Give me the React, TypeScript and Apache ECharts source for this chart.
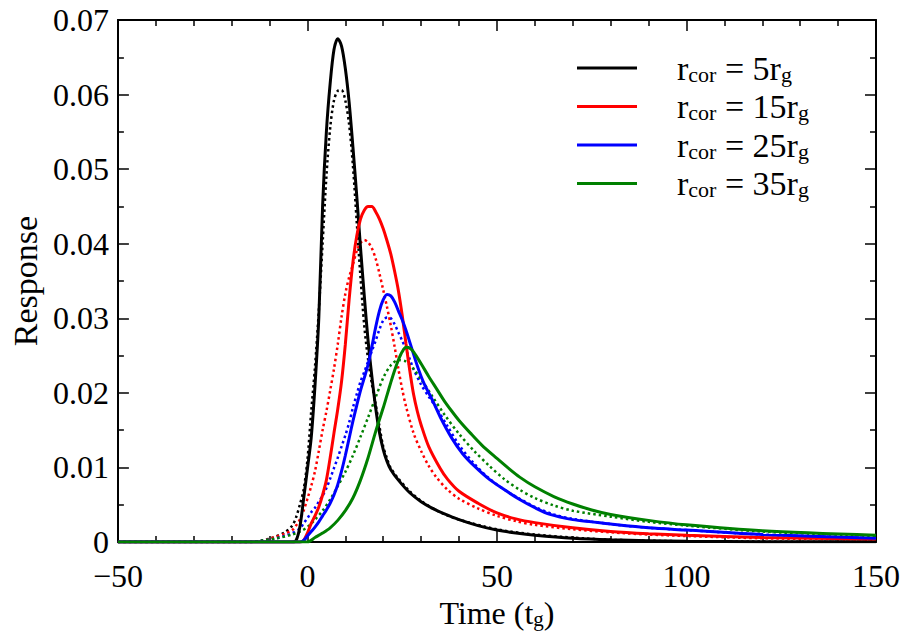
import React, { useEffect, useRef } from "react";
import * as echarts from "echarts";

// ---- Data (time in t_g, response) ----
const black5Solid: number[][] = [[-50,0],[-10,0],[-4,0],[-3,0.0002],[-2,0.002],[-1,0.0058],[0,0.0098],[1,0.014],[2,0.021],[3,0.03],[4,0.045],[5,0.055],[6,0.0615],[7,0.066],[8,0.0675],[9,0.0665],[10,0.0635],[11,0.059],[12,0.053],[13,0.0465],[14,0.0395],[15,0.033],[16,0.027],[17,0.0222],[18,0.018],[19,0.0147],[20,0.0124],[21,0.0108],[22,0.0097],[24,0.0083],[27,0.0066],[30,0.0054],[33,0.0045],[36,0.0038],[40,0.003],[45,0.0022],[50,0.0016],[55,0.0012],[60,0.0009],[70,0.0005],[80,0.0003],[100,0.0001],[120,0.00005],[150,0.00002]];
const black5Dotted: number[][] = [[-50,0],[-15,0],[-12,0.0002],[-9,0.0006],[-6,0.0013],[-4,0.0022],[-3,0.0033],[-2,0.005],[-1,0.007],[0,0.011],[1,0.0175],[2,0.0235],[3,0.031],[4,0.04],[5,0.049],[6,0.0555],[7,0.0592],[8,0.0605],[9,0.0606],[10,0.0592],[11,0.056],[12,0.0505],[13,0.043],[14,0.0355],[15,0.029],[16,0.0245],[17,0.0212],[18,0.0185],[19,0.0155],[20,0.0128],[21,0.0112],[22,0.0099],[24,0.0085],[27,0.0068],[30,0.0055],[35,0.004],[40,0.003],[50,0.0017],[60,0.001],[70,0.0006],[80,0.0003],[100,0.0001],[150,0.00002]];
const red15Solid: number[][] = [[-50,0],[-2,0],[-1,0.0002],[0,0.0012],[1,0.0025],[2,0.0035],[3,0.0047],[4,0.0063],[5,0.0083],[6,0.0113],[7,0.0146],[8,0.0178],[9,0.0215],[10,0.0265],[11,0.0325],[12,0.0375],[13,0.041],[14,0.0433],[15,0.0445],[16,0.045],[17,0.045],[18,0.0443],[19,0.0433],[20,0.042],[21,0.0404],[22,0.0386],[23,0.0363],[24,0.0337],[25,0.0304],[26,0.0266],[27,0.023],[28,0.0198],[29,0.0175],[30,0.0157],[32,0.0128],[35,0.0099],[37,0.0084],[40,0.0068],[45,0.0052],[50,0.0039],[55,0.0031],[60,0.0026],[70,0.0019],[80,0.0014],[90,0.0011],[100,0.0009],[120,0.0006],[150,0.0004]];
const red15Dotted: number[][] = [[-50,0],[-15,0],[-12,0.0002],[-9,0.0006],[-6,0.0011],[-4,0.0016],[-3,0.0022],[-2,0.003],[-1,0.0042],[0,0.0058],[1,0.0075],[2,0.0095],[3,0.0122],[4,0.015],[5,0.0175],[6,0.0203],[7,0.0232],[8,0.0265],[9,0.0302],[10,0.0333],[11,0.0355],[12,0.0372],[13,0.039],[14,0.0401],[15,0.0405],[16,0.0402],[17,0.0394],[18,0.038],[19,0.036],[20,0.0338],[21,0.0315],[22,0.029],[23,0.0262],[24,0.0232],[25,0.0205],[26,0.0182],[28,0.0146],[30,0.0122],[32,0.0102],[34,0.0087],[37,0.007],[40,0.0058],[45,0.0045],[50,0.0035],[55,0.0028],[60,0.0023],[70,0.0017],[80,0.0013],[90,0.001],[100,0.0008],[120,0.0005],[150,0.0003]];
const blue25Solid: number[][] = [[-50,0],[-2,0],[-1,0.0002],[0,0.0008],[1,0.0014],[2,0.002],[3,0.0027],[4,0.0035],[5,0.0043],[6,0.0052],[7,0.0063],[8,0.0077],[9,0.0095],[10,0.0116],[11,0.0139],[12,0.0162],[13,0.0183],[14,0.0203],[15,0.022],[16,0.0238],[17,0.0262],[18,0.0288],[19,0.031],[20,0.0325],[21,0.0332],[22,0.033],[23,0.0322],[24,0.031],[25,0.0298],[26,0.0284],[27,0.0268],[28,0.0252],[29,0.0236],[30,0.0222],[31,0.021],[33,0.019],[35,0.0168],[38,0.014],[41,0.0118],[44,0.0102],[48,0.0084],[52,0.007],[56,0.0057],[60,0.0046],[64,0.0037],[70,0.003],[75,0.0027],[80,0.0024],[90,0.0019],[100,0.0016],[120,0.001],[150,0.0005]];
const blue25Dotted: number[][] = [[-50,0],[-15,0],[-12,0.0002],[-9,0.0004],[-6,0.0008],[-4,0.0012],[-2,0.0018],[-1,0.0025],[0,0.0032],[1,0.004],[2,0.0046],[3,0.0054],[4,0.0062],[5,0.0072],[6,0.0085],[7,0.0099],[8,0.0113],[9,0.0128],[10,0.0143],[11,0.016],[12,0.018],[13,0.0198],[14,0.0215],[15,0.0228],[16,0.0242],[17,0.0256],[18,0.027],[19,0.0285],[20,0.0297],[21,0.0301],[22,0.03],[23,0.0292],[24,0.0281],[25,0.027],[26,0.0258],[27,0.0245],[28,0.0232],[30,0.0211],[32,0.0195],[34,0.018],[37,0.0155],[40,0.013],[44,0.0105],[48,0.0085],[52,0.007],[56,0.0058],[60,0.0047],[65,0.0037],[70,0.0031],[80,0.0024],[90,0.0019],[100,0.0016],[120,0.001],[150,0.0005]];
const green35Solid: number[][] = [[-50,0],[0,0],[2,0.0006],[4,0.0012],[6,0.0019],[8,0.0029],[10,0.0042],[12,0.0059],[14,0.0083],[16,0.0113],[18,0.0148],[20,0.018],[21,0.0197],[22,0.0214],[23,0.023],[24,0.0244],[25,0.0255],[26,0.0261],[27,0.026],[28,0.0255],[30,0.0239],[32,0.0222],[34,0.0206],[36,0.019],[38,0.0176],[40,0.0163],[43,0.0146],[46,0.013],[50,0.0112],[53,0.0099],[56,0.0087],[60,0.0074],[65,0.0061],[70,0.0051],[75,0.0043],[80,0.0037],[90,0.0029],[100,0.0023],[120,0.0015],[150,0.0009]];
const green35Dotted: number[][] = [[-50,0],[-15,0],[-12,0.0002],[-8,0.0005],[-4,0.001],[-2,0.0014],[0,0.002],[2,0.003],[4,0.0042],[6,0.0057],[8,0.0075],[10,0.0094],[12,0.0116],[14,0.0141],[16,0.0167],[18,0.0194],[20,0.022],[22,0.0237],[24,0.0244],[26,0.0242],[28,0.0232],[30,0.0218],[33,0.0195],[36,0.0172],[40,0.0145],[44,0.0122],[48,0.0102],[52,0.0084],[56,0.007],[60,0.0059],[65,0.0049],[70,0.0042],[80,0.0034],[90,0.0027],[100,0.0022],[120,0.0014],[150,0.0008]];

const legendNames = ["5", "15", "25", "35"];
const colors = ["#000000", "#ff0000", "#0000ff", "#008000"];
const solidSets = [black5Solid, red15Solid, blue25Solid, green35Solid];
const dottedSets = [black5Dotted, red15Dotted, blue25Dotted, green35Dotted];

const FONT = "'Liberation Serif', 'Times New Roman', Times, serif";

export default function App() {
  const ref = useRef<HTMLDivElement>(null);
  useEffect(() => {
    document.body.style.margin = "0";
    const chart = echarts.init(ref.current!, null, { renderer: "svg" });
    const solidSeries = solidSets.map((d, i) => ({
      name: legendNames[i],
      type: "line",
      data: d,
      showSymbol: false,
      symbol: "none",
      smooth: 0.3,
      lineStyle: { color: colors[i], width: 3 },
      itemStyle: { color: colors[i] },
      z: 3,
    }));
    const dottedSeries = dottedSets.map((d, i) => ({
      name: legendNames[i] + "d",
      type: "line",
      data: d,
      showSymbol: false,
      symbol: "none",
      smooth: 0.3,
      lineStyle: { color: colors[i], width: 2.5, type: [2.5, 3] },
      itemStyle: { color: colors[i] },
      z: 2,
    }));
    const tickCommon = {
      axisLine: { show: true, onZero: false, lineStyle: { color: "#000", width: 2 } },
      axisTick: { show: true, inside: true, length: 11, lineStyle: { color: "#000", width: 1.5 } },
      minorTick: { show: true, length: 6, lineStyle: { color: "#000", width: 1.5 } },
      splitLine: { show: false },
    };
    const richAxis = {
      m: { fontFamily: FONT, fontSize: 32, color: "#000", lineHeight: 34 },
      s: { fontFamily: FONT, fontSize: 21, color: "#000", lineHeight: 14, verticalAlign: "bottom" },
    };
    const richLegend = {
      m: { fontFamily: FONT, fontSize: 34, color: "#000", lineHeight: 34 },
      s: { fontFamily: FONT, fontSize: 22, color: "#000", lineHeight: 14, verticalAlign: "bottom" },
      sp: { width: 35, fontSize: 10 },
    };
    chart.setOption({
      animation: false,
      backgroundColor: "#fff",
      grid: { left: 116, right: 39, top: 20, bottom: 98 },
      legend: {
        data: legendNames,
        orient: "vertical",
        left: 572,
        top: 46,
        itemWidth: 60,
        itemHeight: 34,
        itemGap: 4.5,
        icon: "path://M0,0 L60,0 L60,3 L0,3 Z",
        formatter: (n: string) => `{sp| }{m|r}{s|cor}{m| = ${n}r}{s|g}`,
        textStyle: { rich: richLegend },
      },
      xAxis: [
        {
          type: "value",
          min: -50,
          max: 150,
          interval: 50,
          minorTick: { ...tickCommon.minorTick, splitNumber: 5 },
          axisLine: tickCommon.axisLine,
          axisTick: tickCommon.axisTick,
          splitLine: tickCommon.splitLine,
          axisLabel: {
            fontFamily: FONT,
            fontSize: 32,
            color: "#000",
            margin: 18,
            formatter: (v: number) => String(v).replace("-", "\u2212"),
          },
          name: "{m|Time (t}{s|g}{m|)}",
          nameLocation: "middle",
          nameGap: 45,
          nameTextStyle: { rich: richAxis },
        },
        {
          type: "value",
          position: "top",
          min: -50,
          max: 150,
          interval: 50,
          minorTick: { ...tickCommon.minorTick, splitNumber: 5 },
          axisLine: tickCommon.axisLine,
          axisTick: tickCommon.axisTick,
          splitLine: tickCommon.splitLine,
          axisLabel: { show: false },
        },
      ],
      yAxis: [
        {
          type: "value",
          min: 0,
          max: 0.07,
          interval: 0.01,
          minorTick: { ...tickCommon.minorTick, splitNumber: 2 },
          axisLine: tickCommon.axisLine,
          axisTick: tickCommon.axisTick,
          splitLine: tickCommon.splitLine,
          axisLabel: {
            fontFamily: FONT,
            fontSize: 32,
            color: "#000",
            margin: 9,
            formatter: (v: number) => (v === 0 ? "0" : v.toFixed(2)),
          },
          name: "Response",
          nameLocation: "middle",
          nameGap: 70,
          nameTextStyle: { fontFamily: FONT, fontSize: 34, color: "#000" },
        },
        {
          type: "value",
          position: "right",
          min: 0,
          max: 0.07,
          interval: 0.01,
          minorTick: { ...tickCommon.minorTick, splitNumber: 2 },
          axisLine: tickCommon.axisLine,
          axisTick: tickCommon.axisTick,
          splitLine: tickCommon.splitLine,
          axisLabel: { show: false },
        },
      ],
      series: [...dottedSeries, ...solidSeries],
    });
    return () => chart.dispose();
  }, []);
  return <div ref={ref} style={{ width: 915, height: 640 }} />;
}
